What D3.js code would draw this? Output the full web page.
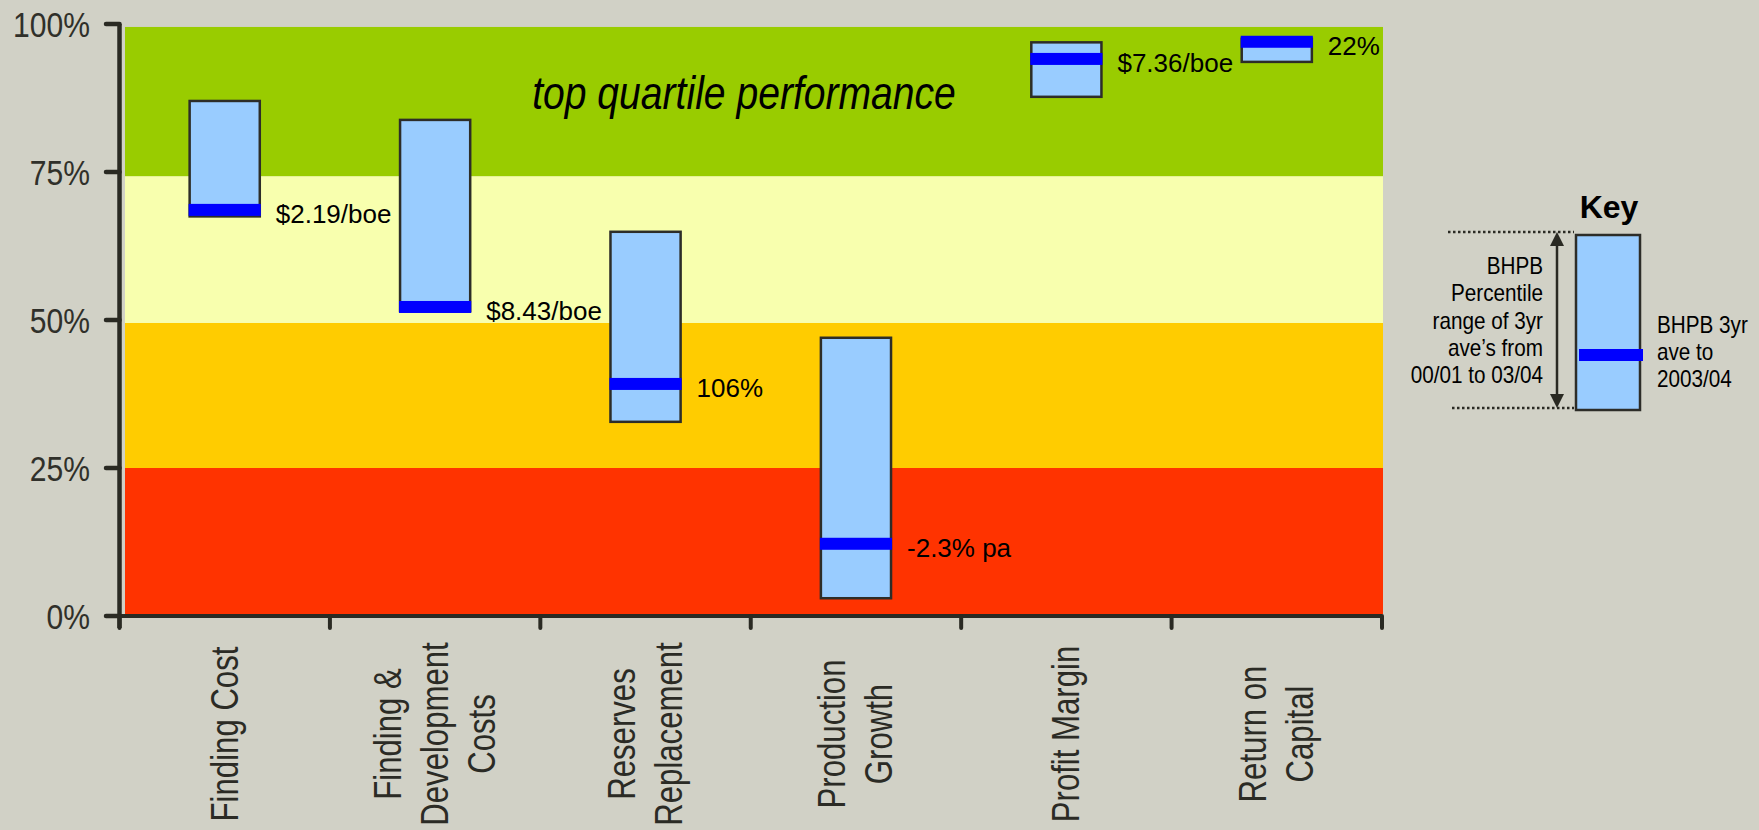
<!DOCTYPE html>
<html>
<head>
<meta charset="utf-8">
<script src="https://cdn.jsdelivr.net/npm/d3@7"></script>
<style>
  html, body { margin: 0; padding: 0; background: #D1D1C6; }
  svg { display: block; }
</style>
</head>
<body>
<svg id="chart" width="1759" height="830"></svg>
<script>
// ---------------- data ----------------
const categories = ["Finding Cost", "Finding & Development Costs", "Reserves Replacement",
                    "Production Growth", "Profit Margin", "Return on Capital"];
const categoryLines = [["Finding Cost"], ["Finding &", "Development", "Costs"], ["Reserves", "Replacement"],
                       ["Production", "Growth"], ["Profit Margin"], ["Return on", "Capital"]];
const rangeLow  = [67.5, 51.5, 32.8, 3.0, 87.7, 93.6];
const rangeHigh = [87.0, 83.8, 64.9, 47.0, 96.9, 97.5];
const average3yr = [68.6, 52.2, 39.2, 12.2, 94.1, 97.0];
const valueLabels = ["$2.19/boe", "$8.43/boe", "106%", "-2.3% pa", "$7.36/boe", "22%"];
const yTickValues = [0, 25, 50, 75, 100];
const zoneLow  = [0.3, 25, 49.5, 74.3];
const zoneHigh = [25, 49.5, 74.3, 99.5];
const zoneColors = ["#FF3300", "#FFCC00", "#F8FFAE", "#99CC00"];
const zoneTitle = "top quartile performance";
const keyLeftText = ["BHPB", "Percentile", "range of 3yr", "ave\u2019s from", "00/01 to 03/04"];
const keyRightText = ["BHPB 3yr", "ave to", "2003/04"];

// ---------------- layout ----------------
const svg = d3.select("#chart");
const axisColor = "#2A2A23";
const y = d3.scaleLinear().domain([0, 100]).range([616, 24]);
const x = d3.scaleBand().domain(categories).range([119.5, 1382]).padding(0);

// background zones
svg.append("g").selectAll("rect").data(zoneLow).join("rect")
  .attr("x", 125).attr("width", 1383 - 125)
  .attr("y", (d, i) => y(zoneHigh[i]))
  .attr("height", (d, i) => y(zoneLow[i]) - y(zoneHigh[i]))
  .attr("fill", (d, i) => zoneColors[i]);

// zone title
svg.append("text")
  .attr("transform", `translate(744, ${y(87) + 8}) scale(0.85,1)`)
  .attr("text-anchor", "middle")
  .attr("font-family", "Liberation Sans, Arial, sans-serif")
  .attr("font-style", "italic")
  .attr("font-size", 46)
  .attr("fill", "#000")
  .text(zoneTitle);

// y axis
const yAxisG = svg.append("g");
yAxisG.append("line")
  .attr("x1", 119.5).attr("x2", 119.5)
  .attr("y1", y(100)).attr("y2", y(0) + 12)
  .attr("stroke", axisColor).attr("stroke-width", 4.5);
yAxisG.selectAll("line.tick").data(yTickValues).join("line")
  .attr("class", "tick")
  .attr("x1", 106).attr("x2", 119.5)
  .attr("y1", d => y(d)).attr("y2", d => y(d))
  .attr("stroke", axisColor).attr("stroke-width", 4.5).attr("stroke-linecap", "round");
yAxisG.selectAll("text").data(yTickValues).join("text")
  .attr("transform", d => `translate(90, ${y(d) + 13}) scale(0.86,1)`)
  .attr("text-anchor", "end")
  .attr("font-family", "Liberation Sans, Arial, sans-serif")
  .attr("font-size", 35)
  .attr("fill", "#30302A")
  .text(d => d + "%");

// x axis
const xAxisG = svg.append("g");
xAxisG.append("line")
  .attr("x1", 106).attr("x2", 1382)
  .attr("y1", y(0)).attr("y2", y(0))
  .attr("stroke", axisColor).attr("stroke-width", 4);
const boundaries = categories.map(c => x(c)).concat([x.range()[1]]);
xAxisG.selectAll("line.tick").data(boundaries).join("line")
  .attr("class", "tick")
  .attr("x1", d => d).attr("x2", d => d)
  .attr("y1", y(0)).attr("y2", y(0) + 12)
  .attr("stroke", axisColor).attr("stroke-width", 4).attr("stroke-linecap", "round");

// category labels (rotated)
categories.forEach((c, ci) => {
  const lines = categoryLines[ci];
  const cx = x(c) + x.bandwidth() / 2;
  lines.forEach((ln, i) => {
    const bx = cx + (i - (lines.length - 1) / 2) * 47 + 13;
    svg.append("text")
      .attr("transform", `translate(${bx}, 734) rotate(-90) scale(0.82,1)`)
      .attr("text-anchor", "middle")
      .attr("font-family", "Liberation Sans, Arial, sans-serif")
      .attr("font-size", 38)
      .attr("fill", "#2B2B25")
      .text(ln);
  });
});

// range bars
const barW = x.bandwidth() / 3;
const bars = svg.append("g");
categories.forEach((c, i) => {
  const cx = x(c) + x.bandwidth() / 2;
  const x0 = cx - barW / 2;
  bars.append("rect")
    .attr("x", x0).attr("width", barW)
    .attr("y", y(rangeHigh[i]))
    .attr("height", y(rangeLow[i]) - y(rangeHigh[i]))
    .attr("fill", "#99CCFF")
    .attr("stroke", "#2D2D28").attr("stroke-width", 2.5);
  bars.append("rect")
    .attr("x", x0 - 1).attr("width", barW + 2)
    .attr("y", y(average3yr[i]) - 6).attr("height", 12)
    .attr("fill", "#0000FF");
  bars.append("text")
    .attr("x", x0 + barW + 16)
    .attr("y", y(average3yr[i]) + 13)
    .attr("font-family", "Liberation Sans, Arial, sans-serif")
    .attr("font-size", 26)
    .attr("fill", "#000")
    .text(valueLabels[i]);
});

// ---------------- key ----------------
const key = svg.append("g");
key.append("text")
  .attr("x", 1609).attr("y", 218)
  .attr("text-anchor", "middle")
  .attr("font-family", "Liberation Sans, Arial, sans-serif")
  .attr("font-weight", "bold")
  .attr("font-size", 32)
  .attr("fill", "#000")
  .text("Key");
key.append("rect")
  .attr("x", 1576).attr("y", 235).attr("width", 64).attr("height", 175)
  .attr("fill", "#99CCFF").attr("stroke", "#2D2D28").attr("stroke-width", 2.5);
key.append("rect")
  .attr("x", 1579).attr("y", 349).attr("width", 64).attr("height", 12)
  .attr("fill", "#0000FF");
[[1448, 232], [1452, 408]].forEach(([x1, yy]) => {
  key.append("line")
    .attr("x1", x1).attr("x2", 1574).attr("y1", yy).attr("y2", yy)
    .attr("stroke", "#2A2A23").attr("stroke-width", 2.5).attr("stroke-dasharray", "2.5,2.5");
});
key.append("line")
  .attr("x1", 1557).attr("x2", 1557).attr("y1", 244).attr("y2", 396)
  .attr("stroke", "#2A2A23").attr("stroke-width", 2.5);
key.append("path").attr("d", "M1557,232 L1550,246 L1564,246 Z").attr("fill", "#2A2A23");
key.append("path").attr("d", "M1557,408 L1550,394 L1564,394 Z").attr("fill", "#2A2A23");
keyLeftText.forEach((t, i) => {
  key.append("text")
    .attr("transform", `translate(1543, ${274 + i * 27.3}) scale(0.9,1)`)
    .attr("text-anchor", "end")
    .attr("font-family", "Liberation Sans, Arial, sans-serif")
    .attr("font-size", 23)
    .attr("fill", "#000")
    .text(t);
});
keyRightText.forEach((t, i) => {
  key.append("text")
    .attr("transform", `translate(1657, ${333 + i * 27}) scale(0.9,1)`)
    .attr("font-family", "Liberation Sans, Arial, sans-serif")
    .attr("font-size", 23)
    .attr("fill", "#000")
    .text(t);
});
</script>
</body>
</html>
